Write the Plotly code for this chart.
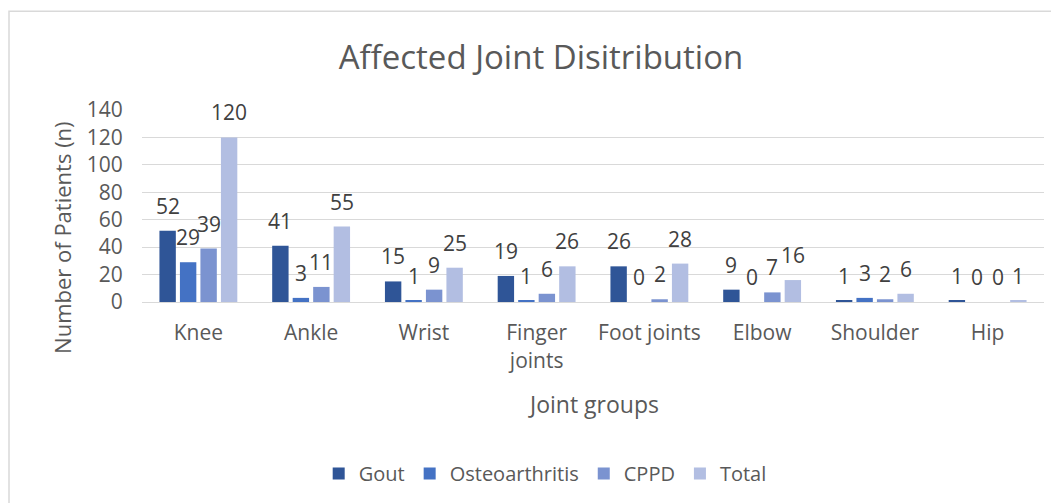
import plotly.graph_objects as go

categories = ["Knee", "Ankle", "Wrist", "Finger<br>joints", "Foot joints", "Elbow", "Shoulder", "Hip"]
series_names = ["Gout", "Osteoarthritis", "CPPD", "Total"]
gout = [52, 41, 15, 19, 26, 9, 1, 1]
osteoarthritis = [29, 3, 1, 1, 0, 0, 3, 0]
cppd = [39, 11, 9, 6, 2, 7, 2, 0]
total = [120, 55, 25, 26, 28, 16, 6, 1]
y_ticks = [0, 20, 40, 60, 80, 100, 120, 140]

colors = ["#2F5597", "#4472C4", "#7B93D0", "#B2BEE2"]
all_series = [gout, osteoarthritis, cppd, total]

FONT = "Open Sans, sans-serif"
GREY = "#595959"

fig = go.Figure()
for name, vals, col in zip(series_names, all_series, colors):
    fig.add_trace(go.Bar(name=name, x=categories, y=vals, marker=dict(color=col, line=dict(width=0))))

# data labels
annotations = []
for i, vals in enumerate(all_series):
    for c, v in zip(categories, vals):
        annotations.append(dict(
            x=c, y=v, xref="x", yref="y", text=str(v), showarrow=False,
            xshift=(i - 1.5) * 20.5, yshift=9, yanchor="bottom",
            font=dict(family=FONT, size=21, color="#404040")))

# y axis title
annotations.append(dict(
    x=-0.0887, y=0.339, xref="paper", yref="paper", text="Number of Patients (n)",
    textangle=-90, showarrow=False, xanchor="center", yanchor="middle",
    font=dict(family=FONT, size=22, color=GREY)))
# x axis title
annotations.append(dict(
    x=0.5, y=-0.533, xref="paper", yref="paper", text="Joint groups",
    showarrow=False, xanchor="center", yanchor="middle",
    font=dict(family=FONT, size=23, color=GREY)))

fig.update_layout(
    width=1059, height=503,
    margin=dict(l=134, r=23, t=102, b=209),
    paper_bgcolor="white", plot_bgcolor="white",
    barmode="group", bargap=0.273, bargroupgap=0.2,
    title=dict(text="Affected Joint Disitribution", x=533 / 1059, xref="container",
               y=1 - 49 / 503, yref="container", xanchor="center", yanchor="middle",
               font=dict(family=FONT, size=33, color=GREY)),
    font=dict(family=FONT, color=GREY),
    legend=dict(orientation="h", x=0.447, xanchor="center", y=-0.893, yanchor="middle",
                font=dict(family=FONT, size=20, color=GREY), traceorder="normal",
                itemwidth=30, itemsizing="constant"),
    annotations=annotations,
    shapes=[dict(type="rect", xref="paper", yref="paper",
                 x0=(9 - 142) / 902, x1=(1075 - 142) / 902,
                 y0=(302 - 520) / 191.5, y1=(302 - 12) / 191.5,
                 line=dict(color="#D9D9D9", width=1.5), fillcolor="rgba(0,0,0,0)", layer="below")],
)
fig.update_yaxes(range=[0, 140], tickvals=y_ticks, showgrid=True, gridcolor="#D9D9D9",
                 gridwidth=1.3, zeroline=False, showline=False,
                 tickfont=dict(family=FONT, size=21, color=GREY), ticks="outside",
                 ticklen=14, tickcolor="rgba(0,0,0,0)")
fig.update_xaxes(showline=True, linecolor="#D9D9D9", linewidth=1.3,
                 tickfont=dict(family=FONT, size=21, color=GREY), ticks="outside",
                 ticklen=12, tickcolor="rgba(0,0,0,0)")

fig.write_html("out.html")
